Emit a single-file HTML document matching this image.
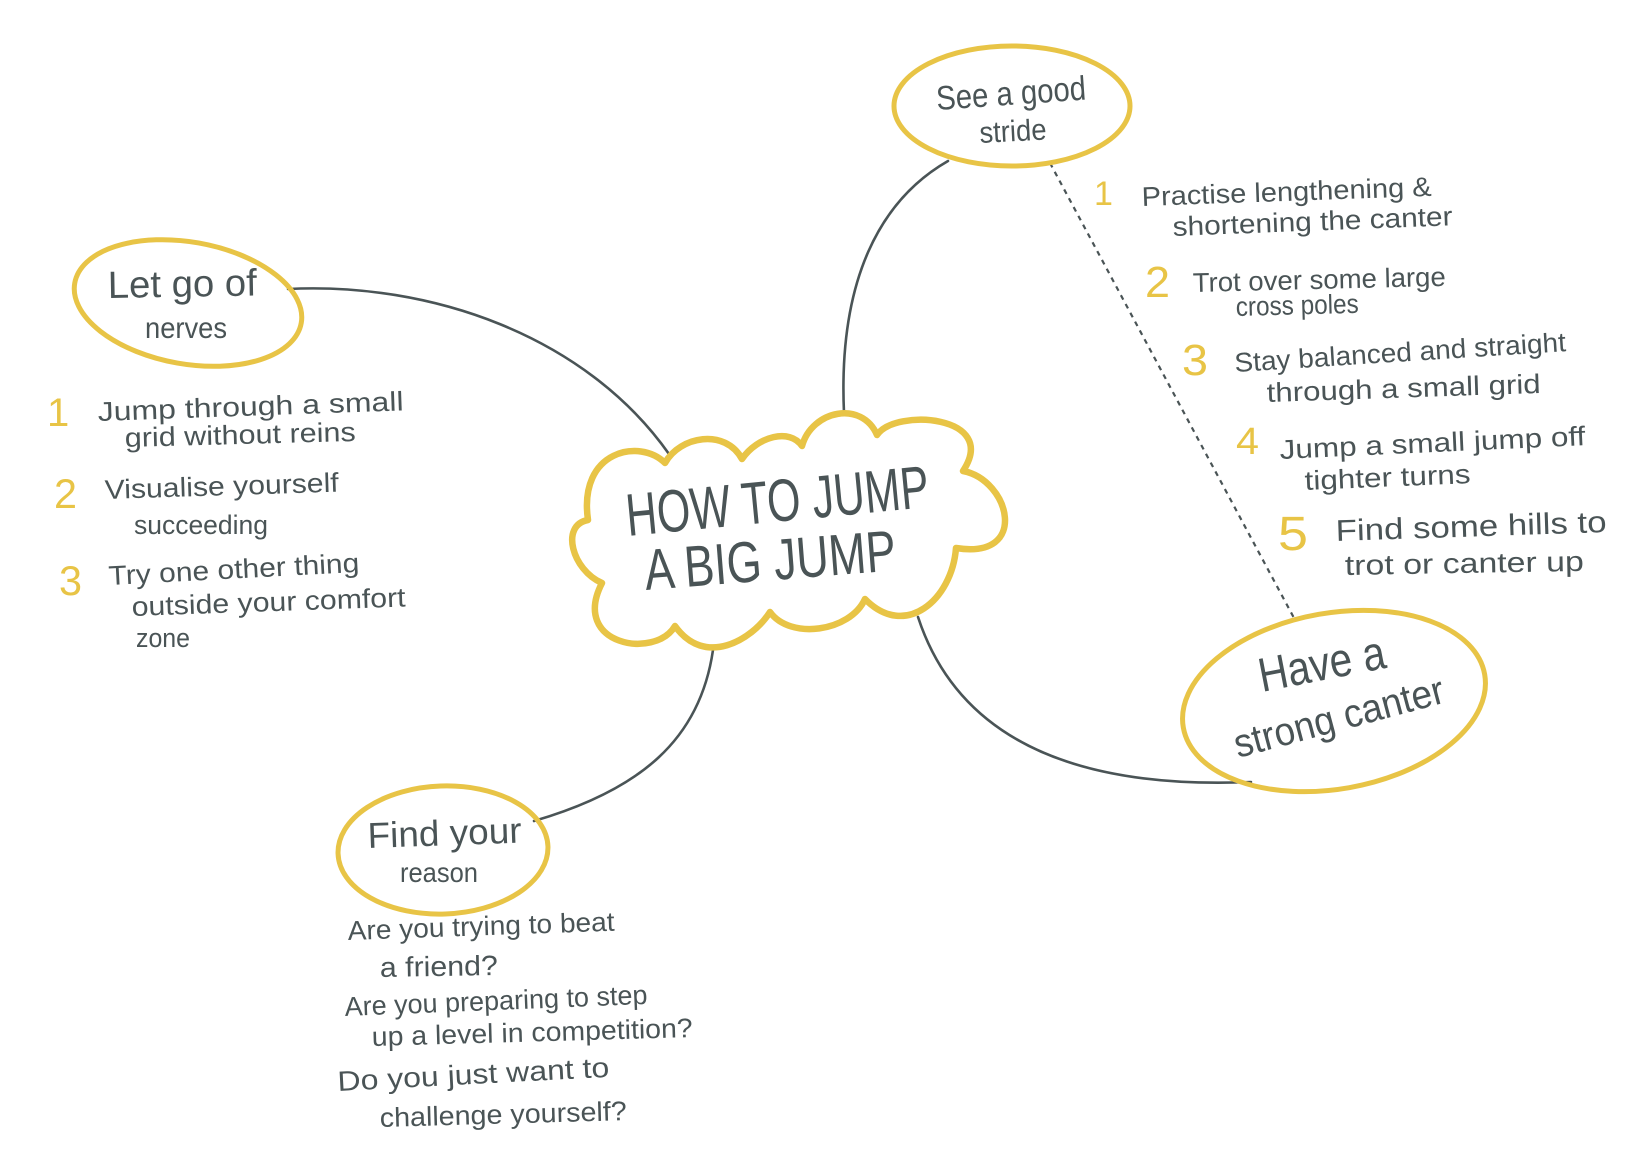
<!DOCTYPE html>
<html><head><meta charset="utf-8"><style>
html,body{margin:0;padding:0;background:#fff;}
svg{display:block;}
text{font-family:"Liberation Sans","DejaVu Sans",sans-serif;fill:#4a5456;}
.n{fill:#e8c446;}
</style></head><body>
<svg width="1648" height="1174" viewBox="0 0 1648 1174" xmlns="http://www.w3.org/2000/svg">
<rect width="1648" height="1174" fill="#fff"/>
<!-- connectors -->
<g fill="none" stroke="#4a5456" stroke-width="2.6" stroke-linecap="round">
<path d="M288 289 C430 282 585 335 669 454"/>
<path d="M948 161 C880 200 838 280 844 413"/>
<path d="M918 617 C955 730 1060 790 1251 782"/>
<path d="M713 650 C700 740 640 790 534 821"/>
<path d="M1050 163 L1294 618" stroke-width="2.2" stroke-dasharray="5 5" stroke-linecap="butt"/>
</g>
<!-- ellipses -->
<g fill="none" stroke="#e8c446" stroke-width="5">
<ellipse cx="188" cy="303" rx="115" ry="61" transform="rotate(10 188 303)"/>
<ellipse cx="1012" cy="106" rx="118" ry="60"/>
<ellipse cx="1334" cy="701" rx="153" ry="88" transform="rotate(-10 1334 701)"/>
<ellipse cx="443" cy="850" rx="105" ry="64" transform="rotate(-2 443 850)"/>
</g>
<!-- cloud -->
<path fill="none" stroke="#e8c446" stroke-width="6.5" stroke-linejoin="round"
d="M665 463 C680 436 725 428 742 459 C758 436 790 428 802 446 C812 410 862 400 877 435 C895 408 1000 415 963 471 C1010 480 1030 560 956 548 C952 600 905 640 865 599 C850 632 790 640 770 612 C752 640 705 668 675 626 C655 660 570 645 602 583 C572 570 560 525 588 520 C578 450 640 438 665 463 Z"/>

<!-- center text -->
<text x="628" y="536" font-size="60" textLength="304" lengthAdjust="spacingAndGlyphs" transform="rotate(-5.5 628 536)">HOW TO JUMP</text>
<text x="646" y="590" font-size="58" textLength="252" lengthAdjust="spacingAndGlyphs" transform="rotate(-4.5 646 590)">A BIG JUMP</text>

<!-- node texts -->
<text x="108" y="298" font-size="38" textLength="149" lengthAdjust="spacingAndGlyphs" transform="rotate(-1 108 298)">Let go of</text>
<text x="145" y="338" font-size="30" textLength="82" lengthAdjust="spacingAndGlyphs">nerves</text>
<text x="937" y="110" font-size="34" textLength="150" lengthAdjust="spacingAndGlyphs" transform="rotate(-4 937 110)">See a good</text>
<text x="980" y="143" font-size="30" textLength="67" lengthAdjust="spacingAndGlyphs" transform="rotate(-3 980 143)">stride</text>
<text x="1262" y="692" font-size="48" textLength="128" lengthAdjust="spacingAndGlyphs" transform="rotate(-11 1262 692)">Have a</text>
<text x="1238" y="758" font-size="40" textLength="216" lengthAdjust="spacingAndGlyphs" transform="rotate(-15 1238 758)">strong canter</text>
<text x="368" y="848" font-size="36" textLength="154" lengthAdjust="spacingAndGlyphs" transform="rotate(-2 368 848)">Find your</text>
<text x="400" y="882" font-size="28" textLength="78" lengthAdjust="spacingAndGlyphs">reason</text>

<!-- left list -->
<text class="n" x="47" y="426" font-size="40">1</text>
<text x="98" y="421" font-size="27" textLength="306" lengthAdjust="spacingAndGlyphs" transform="rotate(-2 98 421)">Jump through a small</text>
<text x="125" y="447" font-size="27" textLength="231" lengthAdjust="spacingAndGlyphs" transform="rotate(-1.5 125 447)">grid without reins</text>
<text class="n" x="54" y="508" font-size="42" textLength="23" lengthAdjust="spacingAndGlyphs">2</text>
<text x="105" y="499" font-size="27" textLength="234" lengthAdjust="spacingAndGlyphs" transform="rotate(-1.8 105 499)">Visualise yourself</text>
<text x="134" y="534" font-size="27" textLength="134" lengthAdjust="spacingAndGlyphs">succeeding</text>
<text class="n" x="59" y="595" font-size="42" textLength="23" lengthAdjust="spacingAndGlyphs">3</text>
<text x="109" y="585" font-size="27" textLength="251" lengthAdjust="spacingAndGlyphs" transform="rotate(-3 109 585)">Try one other thing</text>
<text x="132" y="616" font-size="27" textLength="274" lengthAdjust="spacingAndGlyphs" transform="rotate(-2 132 616)">outside your comfort</text>
<text x="136" y="647" font-size="27" textLength="54" lengthAdjust="spacingAndGlyphs">zone</text>

<!-- right list -->
<text class="n" x="1094" y="205" font-size="34">1</text>
<text x="1142" y="206" font-size="27" textLength="290" lengthAdjust="spacingAndGlyphs" transform="rotate(-2 1142 206)">Practise lengthening &amp;</text>
<text x="1173" y="236" font-size="27" textLength="280" lengthAdjust="spacingAndGlyphs" transform="rotate(-2.2 1173 236)">shortening the canter</text>
<text class="n" x="1145" y="297" font-size="44" textLength="25" lengthAdjust="spacingAndGlyphs">2</text>
<text x="1193" y="292" font-size="27" textLength="253" lengthAdjust="spacingAndGlyphs" transform="rotate(-1.4 1193 292)">Trot over some large</text>
<text x="1236" y="316" font-size="27" textLength="123" lengthAdjust="spacingAndGlyphs" transform="rotate(-1.5 1236 316)">cross poles</text>
<text class="n" x="1182" y="375" font-size="44" textLength="26" lengthAdjust="spacingAndGlyphs">3</text>
<text x="1235" y="372" font-size="27" textLength="332" lengthAdjust="spacingAndGlyphs" transform="rotate(-3.6 1235 372)">Stay balanced and straight</text>
<text x="1267" y="402" font-size="27" textLength="274" lengthAdjust="spacingAndGlyphs" transform="rotate(-1.9 1267 402)">through a small grid</text>
<text class="n" x="1236" y="454" font-size="38" textLength="23" lengthAdjust="spacingAndGlyphs">4</text>
<text x="1280" y="459" font-size="27" textLength="306" lengthAdjust="spacingAndGlyphs" transform="rotate(-2.6 1280 459)">Jump a small jump off</text>
<text x="1305" y="490" font-size="27" textLength="166" lengthAdjust="spacingAndGlyphs" transform="rotate(-2.4 1305 490)">tighter turns</text>
<text class="n" x="1278" y="550" font-size="48" textLength="30" lengthAdjust="spacingAndGlyphs">5</text>
<text x="1336" y="541" font-size="30" textLength="271" lengthAdjust="spacingAndGlyphs" transform="rotate(-1.9 1336 541)">Find some hills to</text>
<text x="1345" y="575" font-size="28" textLength="239" lengthAdjust="spacingAndGlyphs" transform="rotate(-1 1345 575)">trot or canter up</text>

<!-- bottom list -->
<text x="348" y="940" font-size="27" textLength="267" lengthAdjust="spacingAndGlyphs" transform="rotate(-2 348 940)">Are you trying to beat</text>
<text x="380" y="977" font-size="28" textLength="118" lengthAdjust="spacingAndGlyphs" transform="rotate(-1 380 977)">a friend?</text>
<text x="345" y="1016" font-size="27" textLength="303" lengthAdjust="spacingAndGlyphs" transform="rotate(-2.3 345 1016)">Are you preparing to step</text>
<text x="372" y="1046" font-size="27" textLength="321" lengthAdjust="spacingAndGlyphs" transform="rotate(-1.6 372 1046)">up a level in competition?</text>
<text x="338" y="1091" font-size="28" textLength="272" lengthAdjust="spacingAndGlyphs" transform="rotate(-3 338 1091)">Do you just want to</text>
<text x="380" y="1127" font-size="27" textLength="247" lengthAdjust="spacingAndGlyphs" transform="rotate(-1.6 380 1127)">challenge yourself?</text>
</svg>
</body></html>
